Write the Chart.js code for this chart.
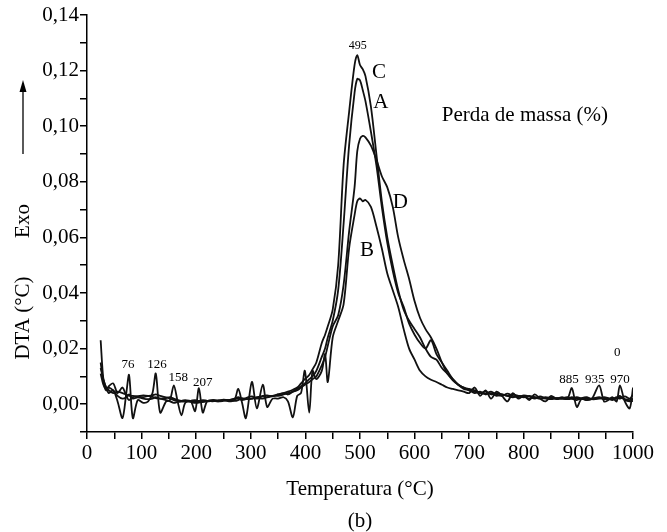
<!DOCTYPE html>
<html>
<head>
<meta charset="utf-8">
<script src="https://cdn.jsdelivr.net/npm/chart.js@4.4.1/dist/chart.umd.min.js"></script>
<style>
  html, body { margin: 0; padding: 0; background: #fff; }
  canvas { display: block; }
</style>
</head>
<body>
<canvas id="dta" width="667" height="532"></canvas>
<script>
    // temperatures (°C)
    var temps = [
        25, 30, 35, 40, 48, 56, 65, 72, 77, 84, 93, 103, 112, 120, 126, 134, 145, 152, 159, 166, 173, 180, 190, 198, 205, 212, 220, 230, 240, 250,
        260, 270, 277, 284, 291, 302, 311, 322, 330, 340, 350, 360, 368, 377, 385, 392, 399, 407, 413,
        420, 430, 436, 441, 450, 460, 470, 480, 490, 495, 500, 505, 510, 520, 530,
        540, 550, 560, 570, 580, 590, 600, 610, 620, 630, 640, 650, 660, 670, 680, 690, 700,
        710, 720, 730, 740, 750, 760, 770, 780, 790, 800, 810, 820, 830, 840, 850, 860, 870,
        880, 888, 897, 906, 915, 925, 938, 947, 955, 962, 970, 976, 985, 994, 1000
    ];

    var curveA = [
        0.013, 0.009, 0.006, 0.005, 0.004, 0.0045, 0.004, 0.0035, 0.003, 0.003, 0.0028, 0.0025, 0.003, 0.0032, 0.0035, 0.003, 0.0025, 0.002, 0.0015, 0.0012, 0.001, 0.001, 0.0012, 0.0015, 0.001, 0.0008, 0.001, 0.0012, 0.001, 0.0012,
        0.0015, 0.0018, 0.002, 0.0015, 0.0018, 0.002, 0.0022, 0.002, 0.0025, 0.003, 0.003, 0.0035, 0.004, 0.0045, 0.0055, 0.0065, 0.0075, 0.009, 0.010,
        0.012, 0.017, 0.020, 0.024, 0.030, 0.041, 0.065, 0.093, 0.112, 0.117, 0.1165, 0.113, 0.109, 0.098, 0.086,
        0.071, 0.058, 0.048, 0.040, 0.035, 0.029, 0.025, 0.022, 0.020, 0.023, 0.018, 0.015, 0.012, 0.009, 0.007, 0.006, 0.005,
        0.0045, 0.004, 0.0045, 0.0035, 0.004, 0.0035, 0.003, 0.0035, 0.003, 0.0025, 0.003, 0.0025, 0.002, 0.0025, 0.002, 0.0022, 0.002,
        0.002, 0.0025, 0.002, 0.0018, 0.0022, 0.002, 0.0025, 0.002, 0.0018, 0.0022, 0.002, 0.0025, 0.0018, 0.0015, 0.002
    ];

    var curveB = [
        0.023, 0.009, 0.006, 0.004, 0.005, 0.001, -0.005, 0.004, 0.0105, -0.005, 0.0015, 0.0005, 0.001, 0.004, 0.011, -0.003, 0.001, 0.0015, 0.0068, 0.001, -0.004, 0.0005, 0.001, -0.0025, 0.0058, -0.003, 0.001, 0.0015, 0.001, 0.0015,
        0.001, 0.0015, 0.0055, 0.0005, -0.005, 0.008, -0.0015, 0.007, -0.001, 0.002, 0.002, 0.0025, 0.001, -0.0047, 0.003, 0.004, 0.012, -0.003, 0.012,
        0.009, 0.012, 0.018, 0.008, 0.024, 0.030, 0.036, 0.056, 0.068, 0.073, 0.074, 0.073, 0.0735, 0.071, 0.064,
        0.056, 0.047, 0.041, 0.035, 0.027, 0.020, 0.016, 0.012, 0.010, 0.0088, 0.008, 0.007, 0.006, 0.0055, 0.005, 0.0045, 0.004,
        0.006, 0.003, 0.005, 0.002, 0.0045, 0.003, 0.001, 0.004, 0.002, 0.003, 0.0015, 0.0035, 0.002, 0.001, 0.003, 0.002, 0.0025,
        0.002, 0.0058, -0.001, 0.002, 0.0015, 0.002, 0.0068, 0.001, 0.0015, 0.0025, 0.001, 0.0068, 0.001, -0.0015, 0.006
    ];

    var curveC = [
        0.011, 0.007, 0.0055, 0.006, 0.005, 0.003, 0.002, 0.0025, 0.0035, 0.002, 0.0025, 0.002, 0.0018, 0.002, 0.0025, 0.002, 0.0022, 0.0025, 0.002, 0.0015, 0.0012, 0.0015, 0.0012, 0.001, 0.0012, 0.0015, 0.0012, 0.001, 0.0013, 0.0015,
        0.0014, 0.0012, 0.0015, 0.0022, 0.0018, 0.002, 0.0025, 0.0028, 0.0025, 0.003, 0.0035, 0.004, 0.0045, 0.0052, 0.006, 0.0075, 0.009, 0.0105, 0.0125,
        0.015, 0.022, 0.025, 0.028, 0.034, 0.050, 0.086, 0.105, 0.122, 0.1256, 0.122, 0.1205, 0.118, 0.107, 0.090,
        0.073, 0.060, 0.050, 0.041, 0.034, 0.030, 0.027, 0.024, 0.020, 0.017, 0.016, 0.013, 0.011, 0.009, 0.007, 0.0055, 0.005,
        0.004, 0.0045, 0.0035, 0.004, 0.003, 0.0035, 0.003, 0.0025, 0.003, 0.0028, 0.002, 0.0025, 0.0022, 0.002, 0.0018, 0.0022, 0.002,
        0.0018, 0.002, 0.0025, 0.002, 0.0015, 0.002, 0.0022, 0.0018, 0.002, 0.0015, 0.0022, 0.003, 0.0015, 0.001, 0.0012
    ];

    var curveD = [
        0.015, 0.008, 0.005, 0.0065, 0.0075, 0.004, 0.006, 0.003, 0.0015, 0.0025, 0.0028, 0.0032, 0.003, 0.0026, 0.0022, 0.002, 0.0015, 0.001, 0.0005, 0.0008, 0.001, 0.0012, 0.0008, 0.0005, 0.0006, 0.001, 0.0012, 0.0015, 0.0014, 0.0016,
        0.0015, 0.002, 0.0025, 0.0018, 0.0022, 0.0028, 0.002, 0.003, 0.0032, 0.0028, 0.0035, 0.004, 0.0035, 0.0045, 0.005, 0.006, 0.007, 0.008, 0.009,
        0.010, 0.014, 0.017, 0.021, 0.028, 0.032, 0.043, 0.062, 0.078, 0.091, 0.0955, 0.0965, 0.096, 0.093, 0.088,
        0.082, 0.078, 0.071, 0.060, 0.052, 0.045, 0.037, 0.031, 0.027, 0.024, 0.020, 0.015, 0.011, 0.0086, 0.007, 0.006, 0.0055,
        0.005, 0.004, 0.0038, 0.0045, 0.0035, 0.003, 0.0038, 0.003, 0.0025, 0.0032, 0.0028, 0.002, 0.0028, 0.0022, 0.0025, 0.0018, 0.0022,
        0.0025, 0.002, 0.0015, 0.0022, 0.0025, 0.0018, 0.002, 0.0025, 0.0022, 0.0018, 0.0025, 0.002, 0.0028, 0.002, 0.0035
    ];

    // text written on the plot: [text, temperature, DTA value, size]
    var notes = [
        ["495", 496, 0.129, 12],
        ["C", 535, 0.1195, 21],
        ["A", 538, 0.1086, 21],
        ["D", 574, 0.0725, 21],
        ["B", 513, 0.0552, 21],
        ["Perda de massa (%)", 802, 0.104, 21],
        ["76", 75, 0.0141, 13],
        ["126", 128, 0.0141, 13],
        ["158", 167, 0.0094, 13],
        ["207", 212, 0.0079, 13],
        ["885", 883, 0.0087, 13],
        ["935", 930, 0.009, 13],
        ["970", 976, 0.009, 13],
        ["0", 971, 0.0184, 13]
    ];

    var serif = "'Liberation Serif', 'Times New Roman', serif";
    Chart.defaults.font.family = serif;
    Chart.defaults.color = "#000";

    function pts(vals) {
        return temps.map(function(t, i) { return {x: t, y: vals[i]}; });
    }

    function curve(label, vals) {
        return {
            label: label,
            data: pts(vals),
            borderColor: "#111",
            borderWidth: 1.8,
            pointRadius: 0,
            fill: false,
            tension: 0.3
        };
    }

    var plotText = {
        id: "plotText",
        afterDatasetsDraw: function(chart) {
            var ctx = chart.ctx,
                xs = chart.scales.x,
                ys = chart.scales.y;
            ctx.save();
            ctx.fillStyle = "#000";
            ctx.textAlign = "center";
            ctx.textBaseline = "middle";
            notes.forEach(function(n) {
                ctx.font = n[3] + "px " + serif;
                ctx.fillText(n[0], xs.getPixelForValue(n[1]), ys.getPixelForValue(n[2]));
            });

            // y axis title with the exo arrow
            ctx.translate(23, 0);
            ctx.rotate(-Math.PI / 2);
            ctx.font = "21px " + serif;
            ctx.fillText("DTA (°C)", -318, 0);
            ctx.fillText("Exo", -221, 0);
            ctx.restore();

            ctx.save();
            ctx.strokeStyle = "#000";
            ctx.fillStyle = "#000";
            ctx.lineWidth = 1.3;
            ctx.beginPath();
            ctx.moveTo(23, 154);
            ctx.lineTo(23, 90);
            ctx.stroke();
            ctx.beginPath();
            ctx.moveTo(23, 80);
            ctx.lineTo(19.5, 92);
            ctx.lineTo(26.5, 92);
            ctx.closePath();
            ctx.fill();
            ctx.restore();
        }
    };

    new Chart(document.getElementById("dta").getContext("2d"), {
        type: "line",
        data: {
            datasets: [
                curve("A", curveA),
                curve("B", curveB),
                curve("C", curveC),
                curve("D", curveD)
            ]
        },
        options: {
            responsive: false,
            animation: false,
            devicePixelRatio: 1,
            layout: { padding: { left: 0, right: 34, top: 15, bottom: 0 } },
            plugins: {
                legend: { display: false },
                tooltip: { enabled: false }
            },
            scales: {
                x: {
                    type: "linear",
                    min: 0,
                    max: 1000,
                    afterFit: function(scale) { scale.height = 100; },
                    border: { color: "#000", width: 1.5 },
                    grid: { drawOnChartArea: false, color: "#000", tickColor: "#000", tickLength: 7, lineWidth: 1.5 },
                    ticks: {
                        stepSize: 50,
                        autoSkip: false,
                        maxRotation: 0,
                        padding: 2,
                        font: { size: 21 },
                        callback: function(v) { return v % 100 === 0 ? String(v) : ""; }
                    },
                    title: {
                        display: true,
                        text: ["Temperatura (°C)", "(b)"],
                        font: { size: 21, lineHeight: 1.5 },
                        padding: { top: 13, bottom: -5 }
                    }
                },
                y: {
                    min: -0.01,
                    max: 0.14,
                    afterFit: function(scale) { scale.width = 87; },
                    border: { color: "#000", width: 1.5 },
                    grid: { drawOnChartArea: false, color: "#000", tickColor: "#000", tickLength: 7, lineWidth: 1.5 },
                    ticks: {
                        stepSize: 0.01,
                        autoSkip: false,
                        padding: 1,
                        font: { size: 21 },
                        callback: function(v) {
                            var k = Math.round(v * 100);
                            return (k >= 0 && k % 2 === 0) ? v.toFixed(2).replace(".", ",") : "";
                        }
                    }
                }
            }
        },
        plugins: [plotText]
    });
</script>
</body>
</html>
